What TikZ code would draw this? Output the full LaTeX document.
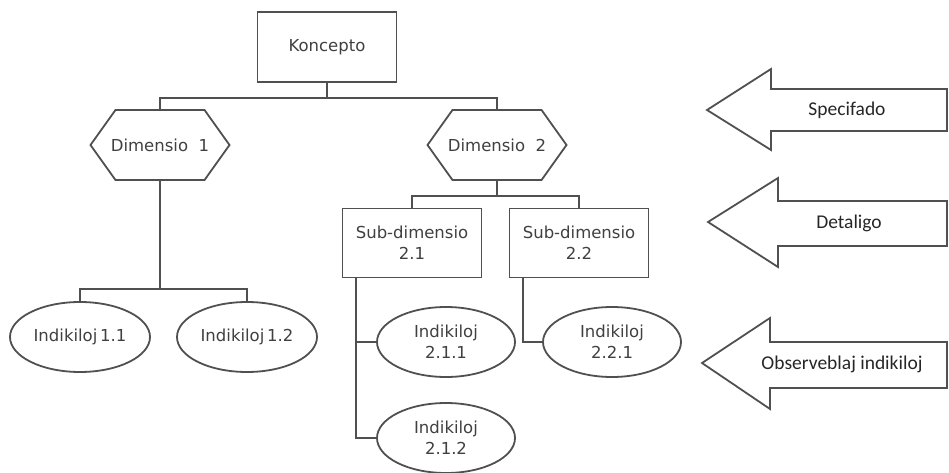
\documentclass[tikz,border=0pt]{standalone}
\usepackage{fontspec}
\setmainfont{DejaVu Sans}
\newfontfamily\arrowfont{Carlito}
\usepackage{tikz}
\usetikzlibrary{shapes.geometric, shapes.symbols, positioning, calc}

\definecolor{linegray}{HTML}{505050}
\definecolor{textgray}{HTML}{404040}

\begin{document}
\begin{tikzpicture}[
    x=1pt, y=-1pt,
    % Define styles for the nodes
    base_node/.style={draw=linegray, line width=1.8pt, align=center, text=textgray,
        font=\fontsize{16.5}{21}\selectfont, inner sep=0pt},
    concept_node/.style={base_node, rectangle, minimum width=139, minimum height=70},
    dim_node/.style={base_node, signal, signal to=west and east, signal pointer angle=109,
        minimum width=139, minimum height=70, inner xsep=-9pt},
    sub_node/.style={base_node, rectangle, minimum width=139, minimum height=69},
    ind_node/.style={base_node, ellipse, minimum width=140, minimum height=70},
    label_node/.style={font=\arrowfont\fontsize{19.5}{21}\selectfont, text=black!85},
    % Styles for connectors
    tree/.style={draw=linegray, line width=1.8pt},
    big_arrow/.style={draw=linegray, line width=1.8pt, line join=miter}
]
    \useasboundingbox (0,0) rectangle (949,473);

    % =========================================================================
    % CONCEPT & DIMENSIONS
    % =========================================================================
    \node (koncepto) [concept_node] at (327,47) {Koncepto};
    \node (dim1) [dim_node] at (160,145) {Dimensio\ \ 1};
    \node (dim2) [dim_node] at (497,145) {Dimensio\ \ 2};

    \draw [tree] (koncepto.south) -- ++(0,15) -| (dim1.north);
    \draw [tree] (koncepto.south) -- ++(0,15) -| (dim2.north);

    % =========================================================================
    % SUB-DIMENSIONS
    % =========================================================================
    \node (sub21) [sub_node] at (412,243) {Sub-dimensio\\2.1};
    \node (sub22) [sub_node] at (579,243) {Sub-dimensio\\2.2};

    \draw [tree] (dim2.south) -- ++(0,15) -| (sub21.north);
    \draw [tree] (dim2.south) -- ++(0,15) -| (sub22.north);

    % =========================================================================
    % INDICATORS
    % =========================================================================
    \node (ind11) [ind_node] at (80,337) {Indikiloj\,1.1};
    \node (ind12) [ind_node] at (247,337) {Indikiloj\,1.2};
    \node (ind211) [ind_node, minimum width=138] at (446,342) {Indikiloj\\2.1.1};
    \node (ind212) [ind_node, minimum width=138] at (446,438) {Indikiloj\\2.1.2};
    \node (ind221) [ind_node, minimum width=138] at (612,342) {Indikiloj\\2.2.1};

    \draw [tree] (dim1.south) -- ++(0,108) -| (ind11.north);
    \draw [tree] (dim1.south) -- ++(0,108) -| (ind12.north);

    \coordinate (sub21_foot) at ($(sub21.south west)+(14,0)$);
    \coordinate (sub22_foot) at ($(sub22.south west)+(14,0)$);
    \draw [tree] (sub21_foot) |- (ind211.west);
    \draw [tree] (sub21_foot) |- (ind212.west);
    \draw [tree] (sub22_foot) |- (ind221.west);

    % =========================================================================
    % LEVEL ARROWS (right side)
    % =========================================================================
    \draw [big_arrow] (707,110) -- (771,69) -- (771,89) -- (947,89) -- (947,131)
        -- (771,131) -- (771,150) -- cycle;
    \node (specifado) [label_node] at (847,110) {Specifado};

    \draw [big_arrow] (708,222) -- (778,178) -- (778,201) -- (947,201) -- (947,246)
        -- (778,246) -- (778,267) -- cycle;
    \node (detaligo) [label_node] at (849,223) {Detaligo};

    \draw [big_arrow] (702,363) -- (770,318) -- (770,342) -- (947,342) -- (947,388)
        -- (770,388) -- (770,409) -- cycle;
    \node (observeblaj) [label_node] at (842,364) {Observeblaj indikiloj};

\end{tikzpicture}
\end{document}
